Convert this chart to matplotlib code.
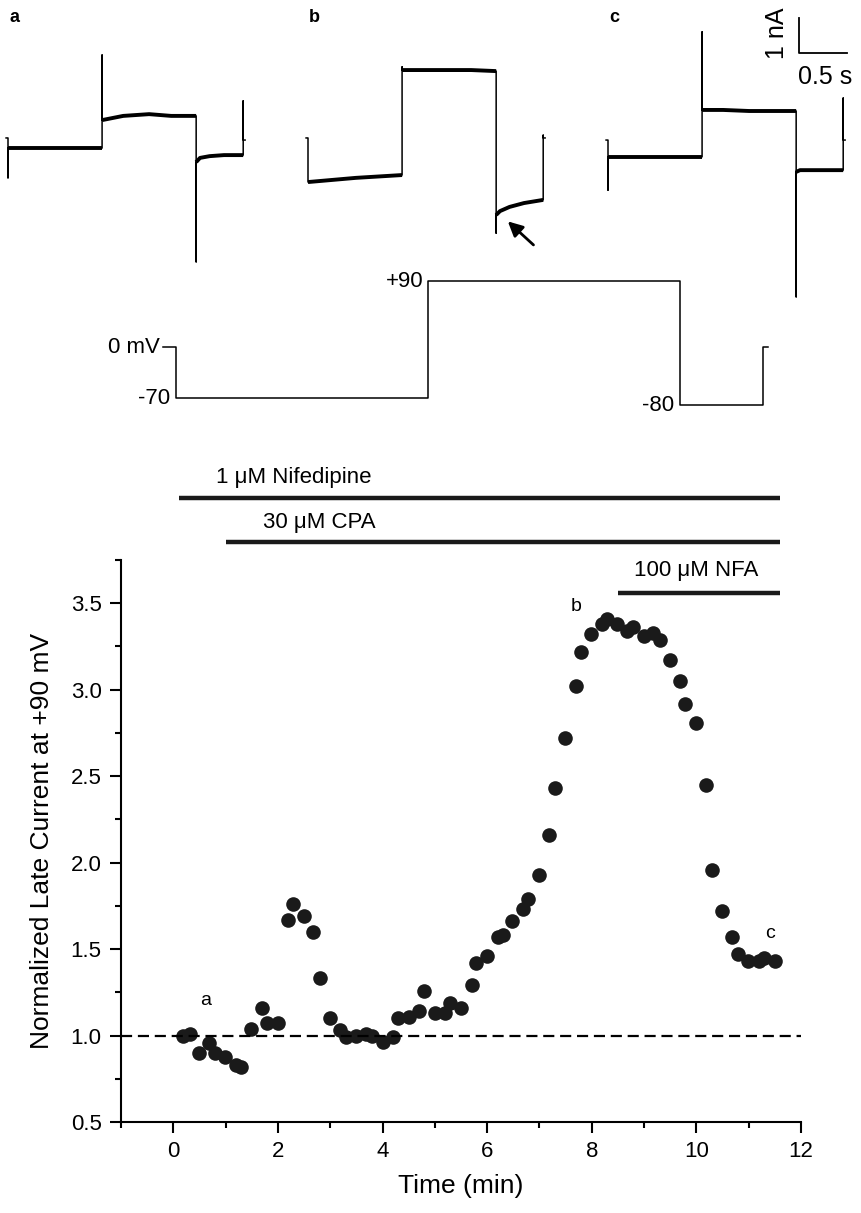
import numpy as np
import matplotlib.pyplot as plt
from matplotlib.ticker import MultipleLocator, FormatStrFormatter
import matplotlib.transforms as mtransforms

plt.rcParams['font.family'] = ['Liberation Sans', 'DejaVu Sans']

# time course of the late current at +90 mV (normalized)
time_min = [0.18, 0.31, 0.50, 0.68, 0.79, 0.98, 1.19, 1.30, 1.49, 1.69, 1.80, 2.00,
            2.19, 2.28, 2.49, 2.68, 2.80, 3.00, 3.18, 3.30, 3.50, 3.69, 3.80, 4.00,
            4.20, 4.29, 4.50, 4.70, 4.79, 5.00, 5.20, 5.29, 5.50, 5.71, 5.79, 6.00,
            6.20, 6.31, 6.48, 6.68, 6.79, 6.99, 7.18, 7.29, 7.49, 7.69, 7.79, 7.99,
            8.19, 8.29, 8.48, 8.68, 8.78, 8.99, 9.18, 9.31, 9.49, 9.69, 9.79, 9.99,
            10.19, 10.29, 10.49, 10.69, 10.79, 10.99, 11.19, 11.30, 11.50]
late_current = [1.00, 1.01, 0.90, 0.955, 0.90, 0.874, 0.83, 0.82, 1.04, 1.16, 1.07, 1.07,
                1.67, 1.76, 1.69, 1.60, 1.33, 1.10, 1.03, 0.99, 1.00, 1.01, 1.00, 0.96,
                0.99, 1.10, 1.11, 1.14, 1.26, 1.13, 1.13, 1.19, 1.16, 1.29, 1.42, 1.46,
                1.57, 1.58, 1.66, 1.73, 1.79, 1.93, 2.16, 2.43, 2.72, 3.02, 3.22, 3.32,
                3.38, 3.41, 3.38, 3.34, 3.36, 3.31, 3.33, 3.29, 3.17, 3.05, 2.92, 2.81,
                2.45, 1.96, 1.72, 1.57, 1.47, 1.43, 1.43, 1.45, 1.43]

# drug applications (min)
drugs = ['1 \u03bcM Nifedipine', '30 \u03bcM CPA', '100 \u03bcM NFA']
drug_start = [0.1, 1.0, 8.5]
drug_end = [11.6, 11.6, 11.6]

# example sweeps a, b, c: time (s) from sweep start, current (nA, arbitrary zero)
trace_t = [-0.02, 0.0, 0.0, 0.0, 0.5, 0.98, 0.98, 0.98, 1.2, 1.47, 1.7, 1.96,
           1.96, 1.96, 2.0, 2.1, 2.25, 2.45, 2.45, 2.45, 2.47]
trace_a = [4.63, 4.63, 3.49, 4.34, 4.34, 4.34, 7.00, 5.14, 5.26, 5.31, 5.26, 5.26,
           1.09, 3.94, 4.06, 4.11, 4.14, 4.14, 5.69, 4.57, 4.57]
trace_b = [4.63, 4.63, 3.37, 3.37, 3.49, 3.57, 6.66, 6.57, 6.57, 6.57, 6.57, 6.54,
           1.91, 2.43, 2.54, 2.66, 2.77, 2.86, 4.71, 4.63, 4.63]
trace_c = [4.57, 4.57, 3.14, 4.09, 4.09, 4.09, 7.66, 5.43, 5.43, 5.40, 5.40, 5.40,
           0.09, 3.66, 3.71, 3.71, 3.71, 3.71, 5.77, 4.57, 4.57]
trace_names = ['a', 'b', 'c']

# voltage protocol (schematic)
protocol_t = [0.0, 0.13, 0.13, 2.76, 2.76, 5.38, 5.38, 6.25, 6.25, 6.30]
protocol_mv = [0, 0, -70, -70, 90, 90, -80, -80, 0, 0]

W, H = 862, 1213
fig = plt.figure(figsize=(W / 100, H / 100), dpi=100)

# ---- current traces ----
ax_tr = fig.add_axes([0, 1 - 300 / H, 1, 300 / H])
ax_tr.set_xlim(0, W / 96)
ax_tr.set_ylim(0, 300 / 35)
ax_tr.axis('off')
offsets = [8 / 96, 308 / 96, 608 / 96]
t = np.array(trace_t)
for off, cur in zip(offsets, [trace_a, trace_b, trace_c]):
    cur = np.array(cur)
    ax_tr.plot(t + off, cur, color='black', lw=1.1)
    for i0, i1 in [(3, 6), (7, 12), (13, 18)]:
        ax_tr.plot(t[i0:i1] + off, cur[i0:i1], color='black', lw=2.8,
                   solid_capstyle='butt')
for off, name in zip(offsets, trace_names):
    ax_tr.text(off + 0.07, 282 / 35, name, fontsize=13, fontweight='bold',
               ha='center', va='center')

# arrow on sweep b
ax_tr.annotate('', xy=(offsets[1] + 2.06, 2.30), xytext=(offsets[1] + 2.37, 1.52),
               arrowprops=dict(arrowstyle='-|>', color='black', lw=2,
                               mutation_scale=22))

# scale bar
sb_x, sb_y = 8.32, 7.06
ax_tr.plot([sb_x, sb_x, sb_x + 0.5], [sb_y + 1, sb_y, sb_y], color='black', lw=1.3)
ax_tr.text(sb_x - 0.23, sb_y + 0.55, '1 nA', rotation=90, fontsize=18,
           ha='center', va='center')
ax_tr.text(sb_x + 0.27, sb_y - 0.69, '0.5 s', fontsize=18, ha='center', va='center')

# ---- voltage protocol ----
ax_p = fig.add_axes([0, 1 - 420 / H, 1, 160 / H])
ax_p.set_xlim(0, W / 96)
ax_p.set_ylim(-100, 119.3)
ax_p.axis('off')
p_off = 1.70
ax_p.plot(np.array(protocol_t) + p_off, protocol_mv, color='black', lw=1.1)
ax_p.text(p_off - 0.03, 0, '0 mV', fontsize=16, ha='right', va='center')
ax_p.text(p_off + protocol_t[2] - 0.06, -70, '-70', fontsize=16, ha='right', va='center')
ax_p.text(p_off + protocol_t[4] - 0.05, 90, '+90', fontsize=16, ha='right', va='center')
ax_p.text(p_off + protocol_t[6] - 0.06, -80, '-80', fontsize=16, ha='right', va='center')

# ---- time course ----
ax = fig.add_axes([121 / W, 1 - 1122 / H, 680 / W, 562 / H])
ax.plot(time_min, late_current, 'o', color='#1a1a1a', markersize=10.5,
        markeredgewidth=0, clip_on=False)
ax.axhline(1.0, color='black', lw=1.6, dashes=(5, 2.6))
ax.set_xlim(-1, 12)
ax.set_ylim(0.5, 3.75)
ax.xaxis.set_major_locator(MultipleLocator(2))
ax.xaxis.set_minor_locator(MultipleLocator(1))
ax.yaxis.set_major_locator(MultipleLocator(0.5))
ax.yaxis.set_minor_locator(MultipleLocator(0.25))
ax.yaxis.set_major_formatter(FormatStrFormatter('%.1f'))
for s in ['top', 'right']:
    ax.spines[s].set_visible(False)
for s in ['left', 'bottom']:
    ax.spines[s].set_linewidth(1.5)
ax.tick_params(which='major', length=8, width=1.5, labelsize=16, pad=6)
ax.tick_params(which='minor', length=4.5, width=1.5)
ax.set_xlabel('Time (min)', fontsize=19, labelpad=8)
ax.set_ylabel('Normalized Late Current at +90 mV', fontsize=19, labelpad=12)

ax.text(0.61, 1.20, 'a', fontsize=14, ha='center', va='center')
ax.text(7.7, 3.48, 'b', fontsize=14, ha='center', va='center')
ax.text(11.4, 1.59, 'c', fontsize=14, ha='center', va='center')

# drug bars
trans = mtransforms.blended_transform_factory(ax.transData, ax.transAxes)
bar_y = [1.110, 1.032, 0.941]
label_y = [1.146, 1.066, 0.982]
label_x = [0.82, 1.72, 8.81]
for name, x0, x1, by, ly, lx in zip(drugs, drug_start, drug_end, bar_y, label_y, label_x):
    ax.plot([x0, x1], [by, by], color='#1a1a1a', lw=3.2, transform=trans,
            clip_on=False, solid_capstyle='butt')
    ax.text(lx, ly, name, fontsize=16, ha='left', va='center', transform=trans)

fig.savefig('out.png', dpi=100)
